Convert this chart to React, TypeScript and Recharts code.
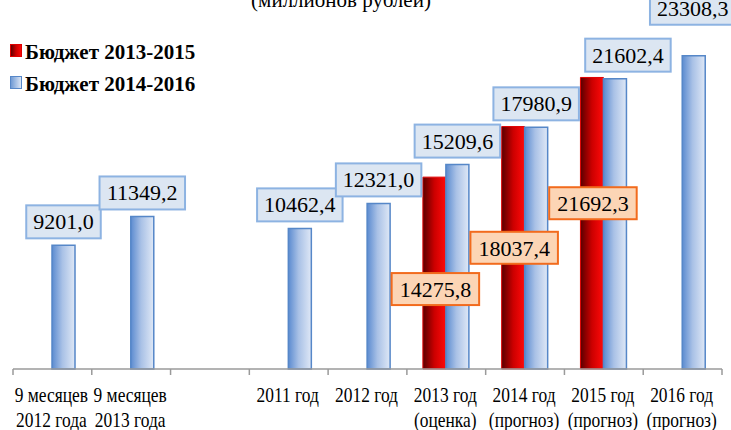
import { BarChart, Bar, XAxis, YAxis, LabelList } from "recharts";

const catLine1 = ["9 месяцев", "9 месяцев", "", "2011 год", "2012 год", "2013 год", "2014 год", "2015 год", "2016 год"];
const catLine2 = ["2012 года", "2013 года", "", "", "", "(оценка)", "(прогноз)", "(прогноз)", "(прогноз)"];
const budget1315 = [null, null, null, null, null, 14275.8, 18037.4, 21692.3, null];
const budget1416 = [9201.0, 11349.2, null, 10462.4, 12321.0, 15209.6, 17980.9, 21602.4, 23308.3];

const data = catLine1.map((c, i) => ({
  name: `${c} ${catLine2[i]}`.trim() || `gap${i}`,
  b1315: budget1315[i],
  b1416: budget1416[i],
}));

// small hand nudges of labels, as in the original (by category index)
const blueNudge = [[0, 0], [0, 0], [0, 0], [0, 0], [0, 0], [0, 0], [0, 0], [13, 0], [-1, -24]];
const redNudge = [0, 0, 0, 0, 0, 16, 0, -20, 0];

const W = 731;
const H = 430;
const AXIS_H = 61;
const M = { top: 33, right: 9, bottom: 0, left: 13 };
const BAND = (W - M.left - M.right) / catLine1.length;
const FONT = "'Liberation Serif', 'Times New Roman', serif";
const txt = { fontFamily: FONT };

const fmt = (v: number) => v.toFixed(1).replace(".", ",");
const textW = (s: string) => s.length * 11 - 5.5;

const BlueLabel = (props: any) => {
  const { x, y, width, value } = props;
  if (value == null) return null;
  const i = budget1416.indexOf(value);
  const s = fmt(value);
  const bw = textW(s) + 14;
  const [dx, dy] = blueNudge[i] || [0, 0];
  const cx = x + width / 2 + dx;
  const bottom = y - 7 + dy;
  return (
    <g>
      <rect x={cx - bw / 2} y={bottom - 33} width={bw} height={33} fill="#dce6f2" stroke="#8db3e2" strokeWidth={2} />
      <text x={cx} y={bottom - 9} textAnchor="middle" style={txt} fontSize={22} fill="#000">{s}</text>
    </g>
  );
};

const RedLabel = (props: any) => {
  const { x, y, width, height, value } = props;
  if (value == null) return null;
  const i = budget1315.indexOf(value);
  const s = fmt(value);
  const bw = textW(s) + 16;
  const cx = x + width / 2 + 1;
  const cy = y + height / 2 + (redNudge[i] || 0);
  return (
    <g>
      <rect x={cx - bw / 2} y={cy - 16} width={bw} height={32} fill="#fcd5b5" stroke="#f26b1d" strokeWidth={2} />
      <text x={cx} y={cy + 8} textAnchor="middle" style={txt} fontSize={22} fill="#000">{s}</text>
    </g>
  );
};

const AxisTick = (props: any) => {
  const { x, y, index } = props;
  const left = x - BAND / 2;
  const right = x + BAND / 2;
  return (
    <g>
      <line x1={left} y1={y} x2={left} y2={y + 6} stroke="#9a9a9a" strokeWidth={1.5} />
      {index === catLine1.length - 1 && (
        <line x1={right} y1={y} x2={right} y2={y + 6} stroke="#9a9a9a" strokeWidth={1.5} />
      )}
      <g transform={`translate(${x - 1},${y}) scale(0.83,1)`}>
        <text x={0} y={33} textAnchor="middle" style={txt} fontSize={21} fill="#000">{catLine1[index]}</text>
        <text x={0} y={58} textAnchor="middle" style={txt} fontSize={21} fill="#000">{catLine2[index]}</text>
      </g>
    </g>
  );
};

const Overlay = () => (
  <svg width={W} height={H} style={{ position: "absolute", left: 0, top: 0, pointerEvents: "none" }}>
    <defs>
      <linearGradient id="legRed" x1="0" y1="0" x2="1" y2="0">
        <stop offset="0%" stopColor="#5a0000" />
        <stop offset="50%" stopColor="#cc0000" />
        <stop offset="100%" stopColor="#ff0a0a" />
      </linearGradient>
      <linearGradient id="legBlue" x1="0" y1="0" x2="1" y2="0">
        <stop offset="0%" stopColor="#6b97d3" />
        <stop offset="100%" stopColor="#dfe8f6" />
      </linearGradient>
    </defs>
    <text x={341} y={7} textAnchor="middle" style={txt} fontSize={21} fill="#000">(миллионов рублей)</text>
    <rect x={10.5} y={44.5} width={11} height={12} fill="url(#legRed)" stroke="#e00000" />
    <text x={25} y={59} style={txt} fontSize={21} fontWeight="bold" fill="#000">Бюджет 2013-2015</text>
    <rect x={10.5} y={76.5} width={11} height={12} fill="url(#legBlue)" stroke="#5687c8" />
    <text x={25} y={91} style={txt} fontSize={21} fontWeight="bold" fill="#000">Бюджет 2014-2016</text>
  </svg>
);

export default function App() {
  return (
    <div style={{ position: "absolute", left: 0, top: 0, width: W, height: H, background: "#fff", fontFamily: FONT, overflow: "hidden" }}>
      <BarChart width={W} height={H} data={data} margin={M} barGap={0} barSize={23}>
        <defs>
          <linearGradient id="gRed" x1="0" y1="0" x2="1" y2="0">
            <stop offset="0%" stopColor="#5a0000" />
            <stop offset="50%" stopColor="#cc0000" />
            <stop offset="100%" stopColor="#ff0a0a" />
          </linearGradient>
          <linearGradient id="gBlue" x1="0" y1="0" x2="1" y2="0">
            <stop offset="0%" stopColor="#5b8bd0" />
            <stop offset="45%" stopColor="#a9c1e6" />
            <stop offset="100%" stopColor="#dfe8f6" />
          </linearGradient>
        </defs>
        <XAxis
          dataKey="name"
          interval={0}
          tickSize={0}
          tickMargin={0}
          tickLine={false}
          height={AXIS_H}
          stroke="#9a9a9a"
          strokeWidth={1.5}
          tick={<AxisTick />}
        />
        <YAxis hide domain={[0, 25000]} />
        <Bar dataKey="b1315" fill="url(#gRed)" stroke="#e00000" strokeWidth={1} isAnimationActive={false}>
          <LabelList dataKey="b1315" content={<RedLabel />} />
        </Bar>
        <Bar dataKey="b1416" fill="url(#gBlue)" stroke="#5687c8" strokeWidth={1.5} isAnimationActive={false}>
          <LabelList dataKey="b1416" content={<BlueLabel />} />
        </Bar>
      </BarChart>
      <Overlay />
    </div>
  );
}
